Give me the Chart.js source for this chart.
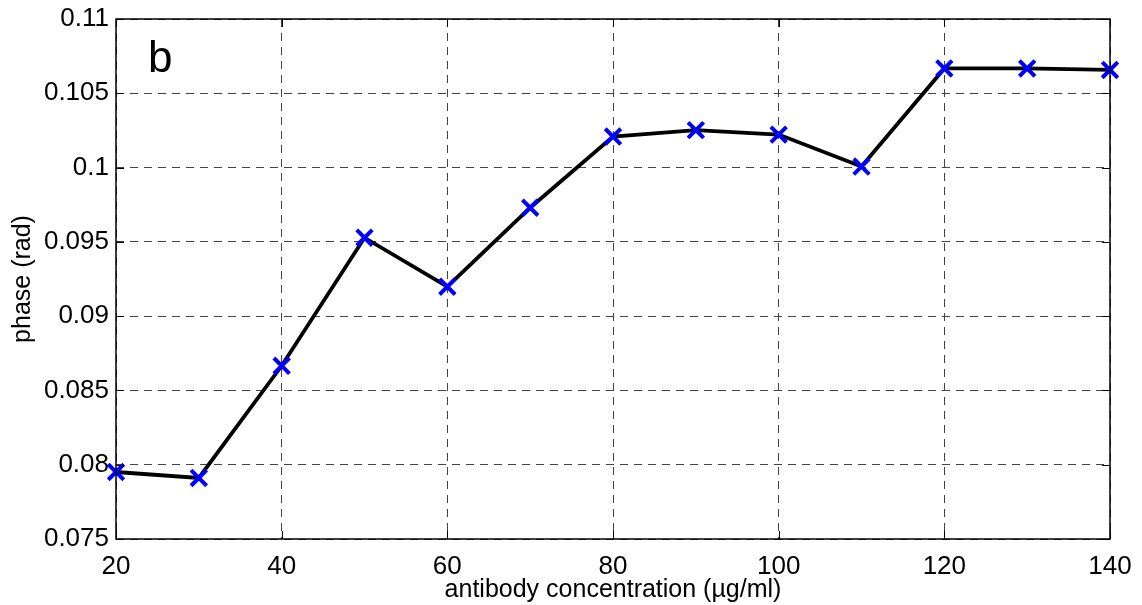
<!DOCTYPE html>
<html><head><meta charset="utf-8">
<script src="https://cdn.jsdelivr.net/npm/chart.js@4/dist/chart.umd.min.js"></script>
<style>html,body{margin:0;padding:0;background:#fff}#wrap{width:1142px;height:605px}</style>
</head><body><div id="wrap"><canvas id="c" width="1142" height="605"></canvas></div>
<script>
const concentrations = [20, 30, 40, 50, 60, 70, 80, 90, 100, 110, 120, 130, 140];
const phase = [0.07951, 0.07911, 0.08666, 0.09528, 0.09198, 0.0973, 0.10209, 0.10252, 0.10222, 0.10007, 0.10667, 0.10667, 0.10657];
const xTicks = [20, 40, 60, 80, 100, 120, 140];
const yTicks = [0.075, 0.08, 0.085, 0.09, 0.095, 0.1, 0.105, 0.11];
const panelLabel = 'b';
const xTitle = 'antibody concentration (µg/ml)';
const yTitle = 'phase (rad)';

const FONT = '"Liberation Sans", Arial, sans-serif';

const frame = {
  id: 'frame',
  afterDraw(chart) {
    const {ctx, chartArea: a, scales} = chart;
    ctx.save();
    ctx.strokeStyle = '#000';
    ctx.lineWidth = 1.5;
    ctx.setLineDash([]);
    ctx.strokeRect(a.left, a.top, a.right - a.left, a.bottom - a.top);
    ctx.lineWidth = 1;
    const tl = 8;
    xTicks.forEach(v => {
      const x = Math.round(scales.x.getPixelForValue(v)) + 0.5;
      ctx.beginPath(); ctx.moveTo(x, a.bottom); ctx.lineTo(x, a.bottom - tl); ctx.stroke();
      ctx.beginPath(); ctx.moveTo(x, a.top); ctx.lineTo(x, a.top + tl); ctx.stroke();
    });
    yTicks.forEach(v => {
      const y = Math.round(scales.y.getPixelForValue(v)) + 0.5;
      ctx.beginPath(); ctx.moveTo(a.left, y); ctx.lineTo(a.left + tl, y); ctx.stroke();
      ctx.beginPath(); ctx.moveTo(a.right, y); ctx.lineTo(a.right - tl, y); ctx.stroke();
    });
    ctx.fillStyle = '#000';
    ctx.font = '44px ' + FONT;
    ctx.textAlign = 'left';
    ctx.textBaseline = 'alphabetic';
    ctx.fillText(panelLabel, a.left + 32, a.top + 53);
    ctx.restore();
  }
};

new Chart(document.getElementById('c'), {
  type: 'line',
  data: {
    labels: concentrations,
    datasets: [{
      data: concentrations.map((x, i) => ({x, y: phase[i]})),
      borderColor: '#000',
      borderWidth: 3.8,
      tension: 0,
      pointStyle: 'crossRot',
      pointRadius: 11,
      pointHoverRadius: 11,
      pointBorderColor: '#0000ff',
      pointBackgroundColor: '#0000ff',
      pointBorderWidth: 4,
      clip: false
    }]
  },
  options: {
    responsive: false,
    animation: false,
    events: [],
    layout: {padding: {left: 0, right: 32, top: 19, bottom: 0}},
    plugins: {legend: {display: false}, tooltip: {enabled: false}},
    scales: {
      x: {
        type: 'linear', min: 20, max: 140,
        afterBuildTicks: s => { s.ticks = xTicks.map(v => ({value: v})); },
        afterFit: s => { s.height = 66; s.paddingLeft = 0; s.paddingRight = 0; },
        ticks: {color: '#000', font: {family: FONT, size: 26}, padding: 12, maxRotation: 0,
                callback: v => String(v)},
        grid: {color: '#444', lineWidth: 1, drawTicks: false, tickLength: 0},
        border: {display: false, dash: [8, 6]},
        title: {display: true, text: xTitle, color: '#000', font: {family: FONT, size: 25}, padding: {top: 0, bottom: 0}}
      },
      y: {
        type: 'linear', min: 0.075, max: 0.11,
        afterBuildTicks: s => { s.ticks = yTicks.map(v => ({value: v})); },
        afterFit: s => { s.width = 116; s.paddingTop = 0; s.paddingBottom = 0; },
        ticks: {color: '#000', font: {family: FONT, size: 26}, padding: 7,
                callback: v => String(parseFloat(v.toFixed(3)))},
        grid: {color: '#444', lineWidth: 1, drawTicks: false, tickLength: 0},
        border: {display: false, dash: [8, 6]},
        title: {display: true, text: yTitle, color: '#000', font: {family: FONT, size: 25}, padding: {top: 8, bottom: 0}}
      }
    }
  },
  plugins: [frame]
});
</script>
</body></html>
